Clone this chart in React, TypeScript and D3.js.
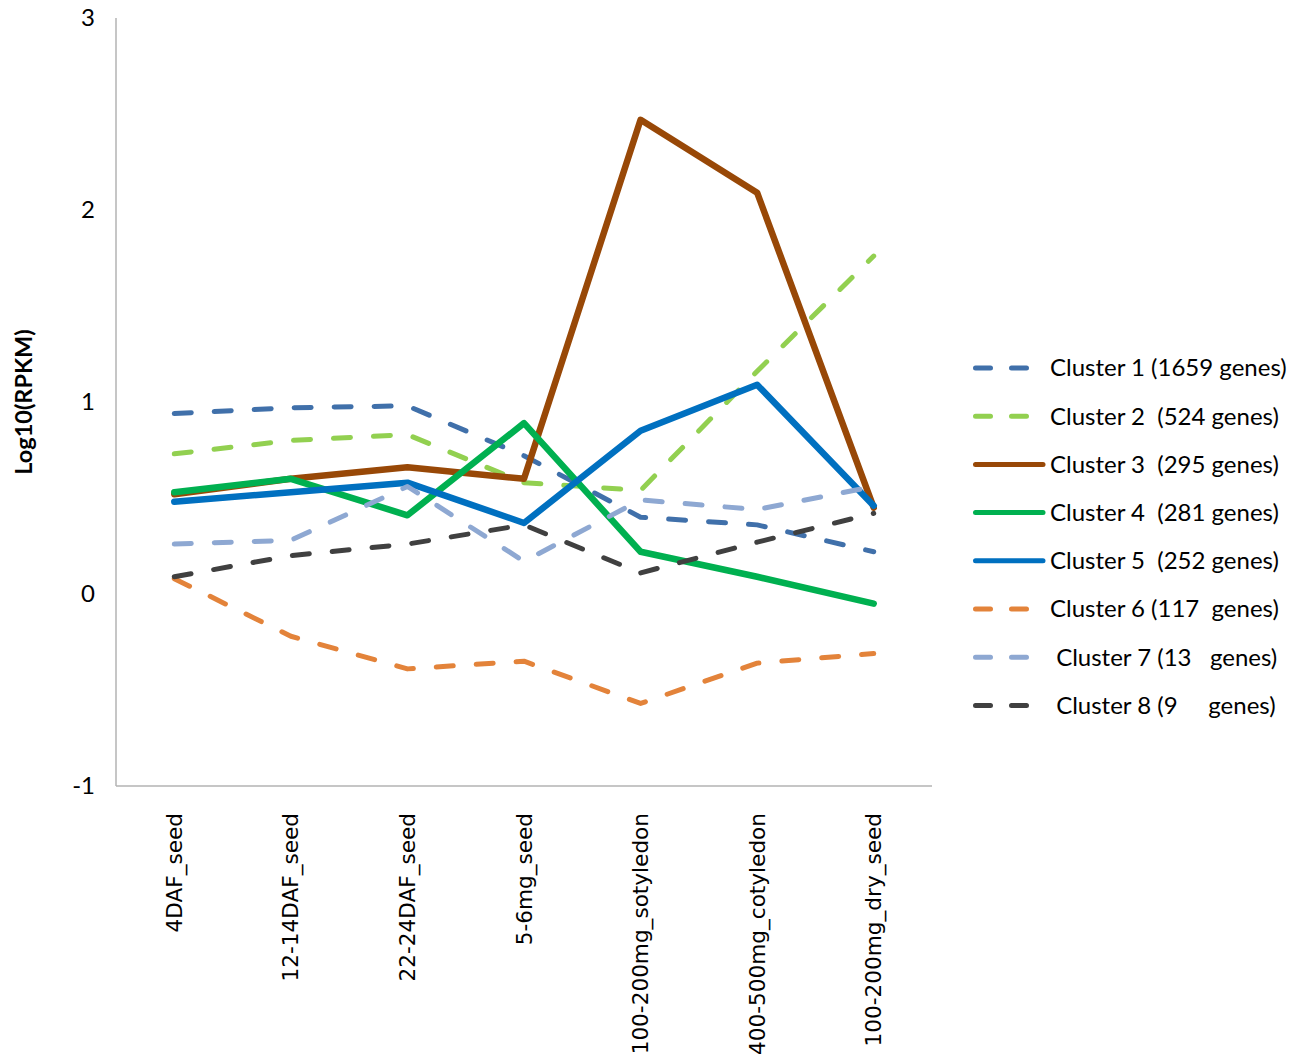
import React from "react";
import * as d3 from "d3";

const categories = [
  "4DAF_seed",
  "12-14DAF_seed",
  "22-24DAF_seed",
  "5-6mg_seed",
  "100-200mg_sotyledon",
  "400-500mg_cotyledon",
  "100-200mg_dry_seed",
];

const yTicks = [-1, 0, 1, 2, 3];

const cluster1 = [0.94, 0.97, 0.98, 0.72, 0.4, 0.36, 0.22];
const cluster2 = [0.73, 0.8, 0.83, 0.58, 0.54, 1.16, 1.76];
const cluster3 = [0.52, 0.6, 0.66, 0.6, 2.47, 2.09, 0.45];
const cluster4 = [0.53, 0.6, 0.41, 0.89, 0.22, 0.09, -0.05];
const cluster5 = [0.48, 0.53, 0.58, 0.37, 0.85, 1.09, 0.46];
const cluster6 = [0.08, -0.22, -0.39, -0.35, -0.57, -0.36, -0.31];
const cluster7 = [0.26, 0.28, 0.56, 0.17, 0.49, 0.44, 0.56];
const cluster8 = [0.09, 0.2, 0.26, 0.36, 0.11, 0.27, 0.42];

const legendLabels = [
  "Cluster 1 (1659 genes)",
  "Cluster 2  (524 genes)",
  "Cluster 3  (295 genes)",
  "Cluster 4  (281 genes)",
  "Cluster 5  (252 genes)",
  "Cluster 6 (117  genes)",
  " Cluster 7 (13   genes)",
  " Cluster 8 (9     genes)",
];

const seriesList = [
  { values: cluster1, color: "#4070AA", dashed: true },
  { values: cluster2, color: "#92D050", dashed: true },
  { values: cluster3, color: "#984807", dashed: false },
  { values: cluster4, color: "#00B050", dashed: false },
  { values: cluster5, color: "#0070C0", dashed: false },
  { values: cluster6, color: "#E3833A", dashed: true },
  { values: cluster7, color: "#8EA8D2", dashed: true },
  { values: cluster8, color: "#404040", dashed: true },
];

export default function App() {
  const W = 1302;
  const H = 1055;
  const x = d3.scaleBand<string>().domain(categories).range([116, 932]);
  const y = d3.scaleLinear().domain([-1, 3]).range([786, 18]);
  const cx = (c: string) => (x(c) as number) + x.bandwidth() / 2;

  const line = d3
    .line<number>()
    .x((_, i) => cx(categories[i]))
    .y((v) => y(v));

  const legendX = 973;
  const legendY0 = 368;
  const legendStep = 48.2;

  return (
    <svg
      width={W}
      height={H}
      style={{ position: "absolute", left: 0, top: 0, background: "#fff" }}
    >
      <rect x={0} y={0} width={W} height={H} fill="#fff" />
      {/* axes */}
      <line x1={116} y1={y(3)} x2={116} y2={y(-1)} stroke="#B3B3B3" strokeWidth={1.5} />
      <line x1={116} y1={y(-1)} x2={932} y2={y(-1)} stroke="#B3B3B3" strokeWidth={1.5} />
      {yTicks.map((t) => (
        <text
          key={t}
          x={95}
          y={y(t)}
          dy="0.35em"
          textAnchor="end"
          fontFamily="Lato, 'Open Sans', sans-serif"
          fontSize={24}
          fill="#000"
        >
          {t}
        </text>
      ))}
      <text
        transform={`translate(24,${y(1)}) rotate(-90)`}
        textAnchor="middle"
        dy="0.35em"
        fontFamily="Lato, 'Open Sans', sans-serif"
        fontWeight="bold"
        fontSize={23.5}
        fill="#000"
      >
        Log10(RPKM)
      </text>
      {categories.map((c) => (
        <text
          key={c}
          transform={`translate(${cx(c)},813) rotate(-90)`}
          textAnchor="end"
          dy="0.35em"
          fontFamily="'DejaVu Sans', Verdana, sans-serif"
          fontSize={21.6}
          fill="#000"
        >
          {c}
        </text>
      ))}
      {/* series */}
      {seriesList.map((s, i) => (
        <path
          key={i}
          d={line(s.values) || ""}
          fill="none"
          stroke={s.color}
          strokeWidth={s.dashed ? 5 : 6.5}
          strokeDasharray={s.dashed ? "17 23" : undefined}
          strokeLinecap="round"
          strokeLinejoin="round"
        />
      ))}
      {/* legend */}
      {seriesList.map((s, i) => {
        const ly = legendY0 + i * legendStep;
        return (
          <g key={i}>
            {s.dashed ? (
              <line
                x1={legendX + 2.5}
                y1={ly}
                x2={legendX + 60}
                y2={ly}
                stroke={s.color}
                strokeWidth={5}
                strokeDasharray="15 21"
                strokeLinecap="round"
              />
            ) : (
              <line
                x1={legendX + 2.5}
                y1={ly}
                x2={1043}
                y2={ly}
                stroke={s.color}
                strokeWidth={5}
                strokeLinecap="round"
              />
            )}
            <text
              x={1050}
              y={ly}
              dy="0.35em"
              fontFamily="Lato, 'Open Sans', sans-serif"
              fontSize={24}
              fill="#000"
              style={{ whiteSpace: "pre" }}
            >
              {legendLabels[i]}
            </text>
          </g>
        );
      })}
    </svg>
  );
}
